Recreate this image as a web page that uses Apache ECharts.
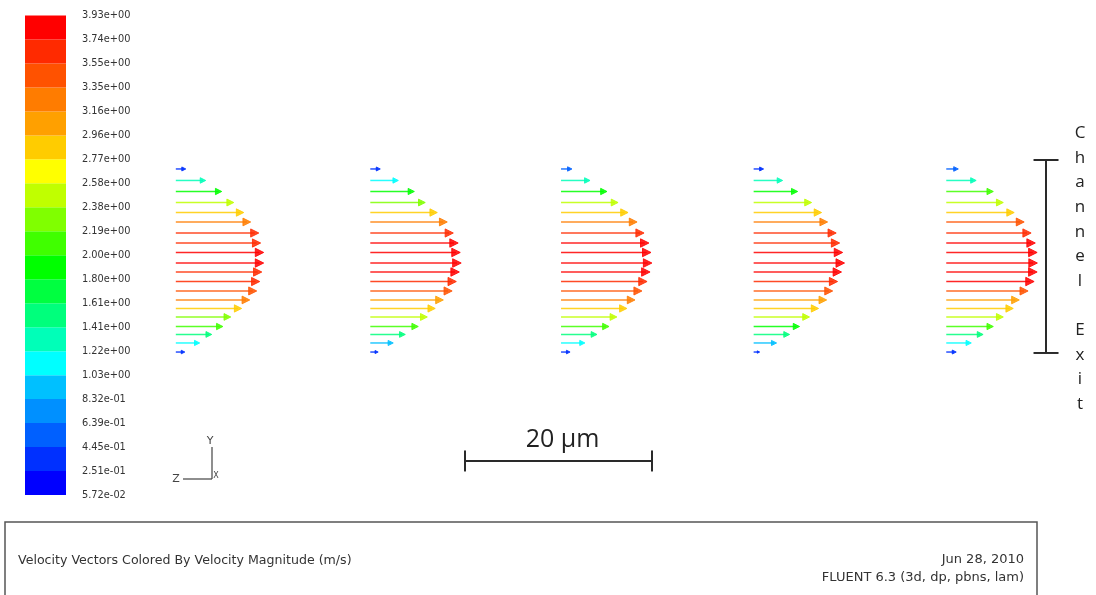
<!DOCTYPE html>
<html><head><meta charset="utf-8">
<script src="https://cdn.jsdelivr.net/npm/echarts@6/dist/echarts.min.js"></script>
<style>html,body{margin:0;padding:0;background:#fff}#c{width:1096px;height:595px}</style>
</head><body><div id="c"></div>
<script>
// Colour-bar tick labels (bottom -> top), velocity magnitude in m/s
const tickLabels = ["5.72e-02","2.51e-01","4.45e-01","6.39e-01","8.32e-01","1.03e+00","1.22e+00","1.41e+00","1.61e+00","1.80e+00","2.00e+00","2.19e+00","2.38e+00","2.58e+00","2.77e+00","2.96e+00","3.16e+00","3.35e+00","3.55e+00","3.74e+00","3.93e+00"];
// Row positions across the channel (um, centre = 0), top -> bottom
const rowY = [9.79, 8.56, 7.38, 6.20, 5.13, 4.12, 2.94, 1.87, 0.86, -0.27, -1.23, -2.25, -3.26, -4.22, -5.13, -6.04, -7.06, -7.91, -8.82, -9.79];
// Streamwise position of each vector profile (um)
const outletX = [4.9, 25.7, 46.1, 66.7, 87.3];
// Velocity magnitudes (m/s) per profile, top -> bottom
const outlet1 = [0.43, 1.29, 1.98, 2.50, 2.93, 3.23, 3.58, 3.66, 3.79, 3.79, 3.71, 3.62, 3.49, 3.19, 2.84, 2.37, 2.03, 1.55, 1.03, 0.39];
const outlet2 = [0.43, 1.21, 1.90, 2.37, 2.89, 3.32, 3.58, 3.79, 3.88, 3.92, 3.84, 3.71, 3.53, 3.15, 2.80, 2.46, 2.07, 1.51, 0.99, 0.34];
const outlet3 = [0.47, 1.25, 1.98, 2.46, 2.89, 3.28, 3.58, 3.79, 3.88, 3.92, 3.84, 3.71, 3.49, 3.19, 2.84, 2.41, 2.07, 1.55, 1.03, 0.39];
const outlet4 = [0.43, 1.25, 1.90, 2.50, 2.93, 3.19, 3.56, 3.71, 3.84, 3.92, 3.79, 3.62, 3.41, 3.15, 2.80, 2.41, 1.98, 1.55, 0.99, 0.26];
const outlet5 = [0.52, 1.29, 2.03, 2.46, 2.93, 3.36, 3.66, 3.84, 3.92, 3.93, 3.92, 3.79, 3.53, 3.15, 2.89, 2.46, 2.03, 1.59, 1.08, 0.43];

// Styles
const bandColors = ['#0000ff','#0030ff','#0060ff','#0090ff','#00c0ff','#00ffff','#00ffb8','#00ff7c','#00ff40','#00ff00','#40ff00','#80ff00','#c0ff00','#ffff00','#ffcc00','#ffa000','#ff7c00','#ff5200','#ff2a00','#ff0000'];
const VSCALE = 2.48; // um of arrow length per m/s

const outlets = [outlet1, outlet2, outlet3, outlet4, outlet5];
const bandEdges = tickLabels.map(Number);
const arrowData = [];
outlets.forEach((vals, p) => vals.forEach((v, i) => arrowData.push([outletX[p], rowY[i], v])));

const pieces = bandColors.map((c, i) => ({gte: i === 0 ? 0 : bandEdges[i], lt: i === 19 ? 10 : bandEdges[i + 1], color: c}));

const chart = echarts.init(document.getElementById('c'), null, {renderer: 'canvas'});

function renderArrow(params, api) {
  const x0 = api.value(0), y = api.value(1), v = api.value(2);
  const p0 = api.coord([x0, y]);
  const p1 = api.coord([x0 + v * VSCALE, y]);
  const L = p1[0] - p0[0];
  const head = Math.min(4 + 0.05 * L, 0.4 * L);
  const half = head * 0.5;
  const color = api.visual('color');
  return {
    type: 'group',
    children: [
      {type: 'line', shape: {x1: p0[0], y1: p0[1], x2: p1[0] - head * 0.5, y2: p1[1]}, style: {stroke: color, lineWidth: 1.5, opacity: 0.85}},
      {type: 'polygon', shape: {points: [[p1[0], p1[1]], [p1[0] - head, p1[1] - half], [p1[0] - head, p1[1] + half]]}, style: {fill: color, stroke: color, lineWidth: 1, opacity: 0.85}}
    ]
  };
}

// annotation geometry (um, in plot axes)
const scaleBar = {x0: 35.83, x1: 55.83, y: -21.44, label: '20 μm'};
const exitBar = {x: 97.97, y0: 10.75, y1: -9.89, label: 'Channel Exit'};

function renderAnnot(params, api) {
  const s0 = api.coord([scaleBar.x0, scaleBar.y]);
  const s1 = api.coord([scaleBar.x1, scaleBar.y]);
  const e0 = api.coord([exitBar.x, exitBar.y0]);
  const e1 = api.coord([exitBar.x, exitBar.y1]);
  const st = {stroke: '#2a2a2a', lineWidth: 2};
  return {
    type: 'group',
    children: [
      {type: 'line', shape: {x1: s0[0], y1: s0[1], x2: s1[0], y2: s1[1]}, style: st},
      {type: 'line', shape: {x1: s0[0], y1: s0[1] - 10.5, x2: s0[0], y2: s0[1] + 10.5}, style: st},
      {type: 'line', shape: {x1: s1[0], y1: s1[1] - 10.5, x2: s1[0], y2: s1[1] + 10.5}, style: st},
      {type: 'text', style: {text: scaleBar.label, x: (s0[0] + s1[0]) / 2 + 4, y: s0[1] - 21, align: 'center', verticalAlign: 'middle', font: '25px "Open Sans"', fill: '#222'}},
      {type: 'line', shape: {x1: e0[0], y1: e0[1], x2: e1[0], y2: e1[1]}, style: st},
      {type: 'line', shape: {x1: e0[0] - 12.5, y1: e0[1], x2: e0[0] + 12.5, y2: e0[1]}, style: st},
      {type: 'line', shape: {x1: e1[0] - 12.5, y1: e1[1], x2: e1[0] + 12.5, y2: e1[1]}, style: st},
      {type: 'text', style: {text: exitBar.label.split('').join('\n'), x: e0[0] + 34, y: 121, align: 'center', verticalAlign: 'top', font: '17px "Open Sans"', lineHeight: 24.6, fill: '#222'}}
    ]
  };
}

function renderBand(params, api) {
  const i = api.value(1);
  const p0 = api.coord([0, i]);
  const p1 = api.coord([1, i + 1]);
  return {type: 'rect', shape: {x: p0[0], y: p1[1], width: p1[0] - p0[0], height: p0[1] - p1[1]}, style: {fill: bandColors[i]}};
}

const option = {
  backgroundColor: '#fff',
  animation: false,
  grid: [
    {left: 130, top: 148.3, width: 935, height: 336.6},
    {left: 25, top: 15.5, width: 41, height: 479.5}
  ],
  xAxis: [
    {type: 'value', min: 0, max: 100, show: false, gridIndex: 0},
    {type: 'value', min: 0, max: 1, show: false, gridIndex: 1}
  ],
  yAxis: [
    {type: 'value', min: -24, max: 12, show: false, gridIndex: 0},
    {type: 'value', min: 0, max: 20, interval: 1, gridIndex: 1, position: 'right',
     axisLine: {show: false}, axisTick: {show: false}, splitLine: {show: false},
     axisLabel: {margin: 16, fontSize: 9.8, fontFamily: 'DejaVu Sans', color: '#333',
       formatter: v => tickLabels[Math.round(v)]}}
  ],
  visualMap: {type: 'piecewise', show: false, seriesIndex: 0, dimension: 2, pieces: pieces},
  series: [
    {type: 'custom', xAxisIndex: 0, yAxisIndex: 0, data: arrowData, encode: {x: 0, y: 1}, renderItem: renderArrow, clip: false},
    {type: 'custom', xAxisIndex: 0, yAxisIndex: 0, data: [[0, 0]], renderItem: renderAnnot, clip: false, silent: true},
    {type: 'custom', xAxisIndex: 1, yAxisIndex: 1, data: bandColors.map((c, i) => [0, i]), encode: {x: 0, y: 1}, renderItem: renderBand}
  ],
  graphic: [
    // axis triad
    {type: 'line', shape: {x1: 212, y1: 447, x2: 212, y2: 479}, style: {stroke: '#444', lineWidth: 1.2}},
    {type: 'line', shape: {x1: 183, y1: 479, x2: 212, y2: 479}, style: {stroke: '#444', lineWidth: 1.2}},
    {type: 'text', x: 210, y: 441, style: {text: 'Y', font: '11px "DejaVu Sans"', fill: '#444', align: 'center', verticalAlign: 'middle'}},
    {type: 'text', x: 176, y: 479, style: {text: 'Z', font: '11px "DejaVu Sans"', fill: '#444', align: 'center', verticalAlign: 'middle'}},
    {type: 'text', x: 216, y: 476, style: {text: 'X', font: '8px "DejaVu Sans"', fill: '#444', align: 'center', verticalAlign: 'middle'}},
    // caption box
    {type: 'rect', shape: {x: 5, y: 522, width: 1032, height: 100}, style: {fill: 'none', stroke: '#555', lineWidth: 1.5}},
    {type: 'text', x: 18, y: 561, style: {text: 'Velocity Vectors Colored By Velocity Magnitude (m/s)', font: '12.6px "DejaVu Sans"', fill: '#333', align: 'left', verticalAlign: 'middle'}},
    {type: 'text', x: 1024, y: 560, style: {text: 'Jun 28, 2010', font: '13px "DejaVu Sans"', fill: '#333', align: 'right', verticalAlign: 'middle'}},
    {type: 'text', x: 1024, y: 578, style: {text: 'FLUENT 6.3 (3d, dp, pbns, lam)', font: '13px "DejaVu Sans"', fill: '#333', align: 'right', verticalAlign: 'middle'}}
  ]
};
chart.setOption(option);
</script>
</body></html>
